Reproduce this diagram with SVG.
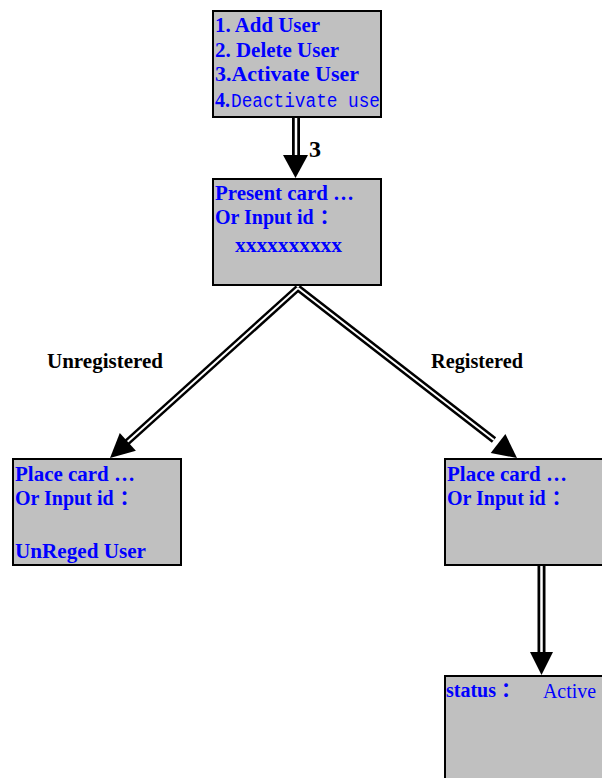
<svg xmlns="http://www.w3.org/2000/svg" width="602" height="778" viewBox="0 0 602 778">
<style>
.box{fill:#c0c0c0;stroke:#000;stroke-width:2}
.t{font-family:"Liberation Serif","Times New Roman","Noto Sans CJK SC",serif;font-weight:bold;font-size:20px;fill:#0000ff}
.m{font-family:"Liberation Mono",monospace;font-weight:normal;font-size:20px;fill:#0000ff}
.r{font-family:"Liberation Serif",serif;font-weight:normal;font-size:22px;fill:#0000ff}
.lbl{font-family:"Liberation Serif","Times New Roman",serif;font-weight:bold;font-size:20px;fill:#000}
.outer{stroke:#000;stroke-width:8;fill:none}
.inner{stroke:#fff;stroke-width:2.5;fill:none}
.head{fill:#000}
</style>
<rect width="602" height="778" fill="#fff"/>
<g id="connectors">
  <line class="outer" x1="296" y1="117" x2="296" y2="156"/>
  <line class="inner" x1="296" y1="118" x2="296" y2="157"/>
  <polygon class="head" points="283,155 308,155 295.5,178"/>
  <text class="lbl" x="309" y="157" style="font-size:24px">3</text>
  <line class="outer" x1="298" y1="288" x2="124" y2="445" style="stroke-width:7"/>
  <line class="outer" x1="298" y1="288" x2="494" y2="440" style="stroke-width:7"/>
  <line class="inner" x1="298" y1="288" x2="124" y2="445" style="stroke-width:2"/>
  <line class="inner" x1="298" y1="288" x2="494" y2="440" style="stroke-width:2"/>
  <polygon class="head" points="110,458 135.9,450.8 119.8,433"/>
  <polygon class="head" points="517,458 490.7,453.1 505.4,434.1"/>
  <text class="lbl" x="47" y="368" textLength="116" lengthAdjust="spacingAndGlyphs">Unregistered</text>
  <text class="lbl" x="431" y="368" textLength="92" lengthAdjust="spacingAndGlyphs">Registered</text>
  <line class="outer" x1="541.5" y1="565" x2="541.5" y2="653"/>
  <line class="inner" x1="541.5" y1="566" x2="541.5" y2="654"/>
  <polygon class="head" points="530,652 553,652 541.5,675"/>
</g>
<g id="menu">
  <rect class="box" x="213" y="11" width="168" height="106"/>
  <text class="t" x="215" y="32" textLength="105" lengthAdjust="spacingAndGlyphs">1. Add User</text>
  <text class="t" x="215" y="57" textLength="124" lengthAdjust="spacingAndGlyphs">2. Delete User</text>
  <text class="t" x="215" y="81" textLength="144" lengthAdjust="spacingAndGlyphs">3.Activate  User</text>
  <text class="t" x="215" y="107">4.</text>
  <text class="m" x="231" y="107" textLength="149" lengthAdjust="spacingAndGlyphs">Deactivate use</text>
</g>
<g id="present">
  <rect class="box" x="213" y="179" width="168" height="106"/>
  <text class="t" x="215" y="200" textLength="139" lengthAdjust="spacingAndGlyphs">Present card …</text>
  <text class="t" x="215" y="224">Or Input id<tspan dx="6">：</tspan></text>
  <text class="t" x="235" y="252" textLength="107" lengthAdjust="spacingAndGlyphs">xxxxxxxxxx</text>
</g>
<g id="unreg">
  <rect class="box" x="13" y="459" width="168" height="106"/>
  <text class="t" x="15" y="481" textLength="120" lengthAdjust="spacingAndGlyphs">Place card …</text>
  <text class="t" x="15" y="505">Or Input id<tspan dx="6">：</tspan></text>
  <text class="t" x="15" y="558" textLength="131" lengthAdjust="spacingAndGlyphs">UnReged User</text>
</g>
<g id="reg">
  <rect class="box" x="445" y="459" width="170" height="106"/>
  <text class="t" x="447" y="481" textLength="120" lengthAdjust="spacingAndGlyphs">Place card …</text>
  <text class="t" x="447" y="505">Or Input id<tspan dx="6">：</tspan></text>
</g>
<g id="status">
  <rect class="box" x="445" y="676" width="170" height="120"/>
  <text class="t" x="446" y="697">status<tspan dx="5">：</tspan></text>
  <text class="r" x="543" y="698" textLength="53" lengthAdjust="spacingAndGlyphs">Active</text>
</g>
</svg>
